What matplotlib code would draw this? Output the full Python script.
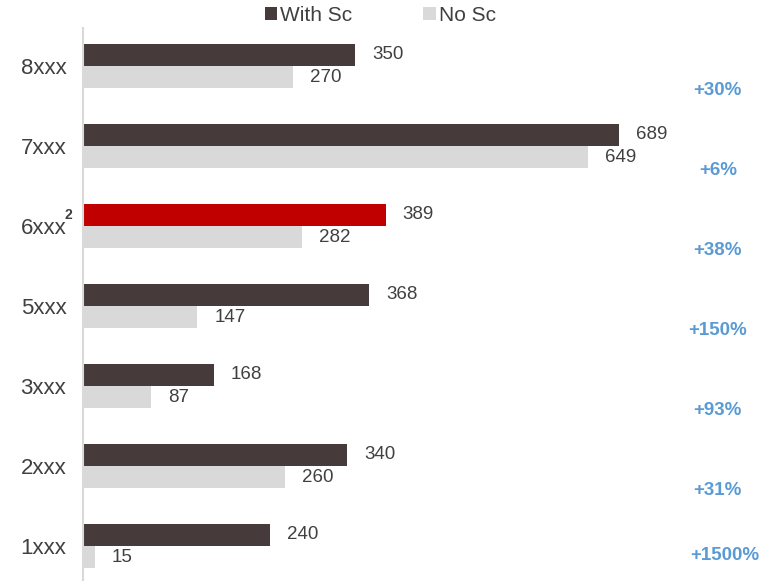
import numpy as np
import matplotlib
matplotlib.use('Agg')
import matplotlib.pyplot as plt
from matplotlib.patches import Patch

# ────────────────────────────────
# Данные

categories = ['1xxx', '2xxx', '3xxx', '5xxx', '6xxx', '7xxx', '8xxx']
with_sc = [240, 340, 168, 368, 389, 689, 350]
no_sc = [15, 260, 87, 147, 282, 649, 270]
growth = ['+1500%', '+31%', '+93%', '+150%', '+38%', '+6%', '+30%']
highlight = '6xxx'

# ────────────────────────────────
# Цвета

c_dark = '#463b3a'
c_light = '#d9d9d9'
c_red = '#c00000'
c_pct = '#5b9bd5'
c_text = '#404040'

plt.rcParams['font.family'] = ['Liberation Sans', 'DejaVu Sans']

fig = plt.figure(figsize=(7.73, 5.85), dpi=100)
ax = fig.add_axes([83 / 773, 5 / 585, 690 / 773, 552 / 585])

y = np.arange(len(categories))
h = 0.28
dark_colors = [c_red if c == highlight else c_dark for c in categories]

ax.barh(y + h / 2, with_sc, height=h, color=dark_colors)
ax.barh(y - h / 2, no_sc, height=h, color=c_light)

ax.set_xlim(0, 887)
ax.set_ylim(-0.425, 6.475)

gap = 22  # отступ подписей в единицах данных
for i in range(len(categories)):
    ax.text(with_sc[i] + gap, y[i] + h / 2, str(with_sc[i]), va='center', ha='left',
            fontsize=13.5, color=c_text)
    ax.text(no_sc[i] + gap, y[i] - h / 2, str(no_sc[i]), va='center', ha='left',
            fontsize=13.5, color=c_text)
    ypct = max(y[i] - 0.31, -0.12)
    xpct = 0.93 if ypct > y[i] - 0.3 else 0.92  # нижняя подпись чуть правее
    ax.text(xpct, ypct, growth[i], transform=ax.get_yaxis_transform(), ha='center',
            va='center', fontsize=13.5, fontweight='bold', color=c_pct)

ax.set_yticks(y)
ax.set_yticklabels(categories, fontsize=16, color=c_text)
ax.tick_params(axis='y', length=0, pad=12)
ax.set_xticks([])

for s in ['top', 'right', 'bottom']:
    ax.spines[s].set_visible(False)
ax.spines['left'].set_color('#d9d9d9')
ax.spines['left'].set_linewidth(1.5)

# надстрочная двойка у выделенной категории
hi = categories.index(highlight)
ax.annotate('2', xy=(0, y[hi]), xycoords=('axes fraction', 'data'),
            xytext=(-13, 3), textcoords='offset points', fontsize=10,
            fontweight='bold', color=c_text, ha='left', va='bottom')

handles = [Patch(facecolor=c_dark, label='With Sc'), Patch(facecolor=c_light, label='No Sc')]
fig.legend(handles=handles, loc='upper center', bbox_to_anchor=(0.492, 1.022), ncol=2,
           frameon=False, fontsize=15, handlelength=0.6, handleheight=0.6,
           handletextpad=0.15, columnspacing=3.4, labelcolor=c_text)

fig.savefig('out.png', dpi=100)
